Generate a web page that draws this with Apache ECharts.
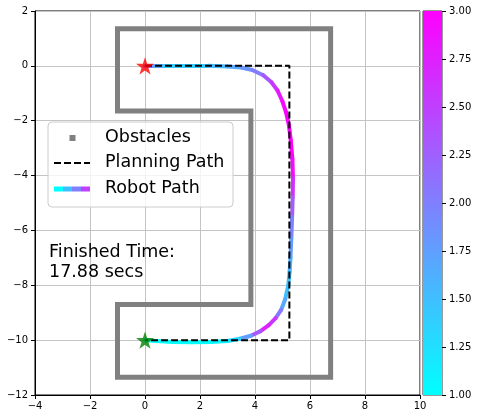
<!DOCTYPE html>
<html>
<head>
<meta charset="utf-8">
<script src="https://cdn.jsdelivr.net/npm/echarts@6/dist/echarts.min.js"></script>
<style>
  html, body { margin: 0; padding: 0; background: #fff; }
  #chart { width: 479px; height: 419px; }
</style>
</head>
<body>
<div id="chart"></div>
<script>
/* 障碍物轮廓 (闭合) */
var obstacleX = [-1, 6.75, 6.75, -1, -1, 3.85, 3.85, -1, -1];
var obstacleY = [1.35, 1.35, -11.35, -11.35, -8.7, -8.7, -1.65, -1.65, 1.35];

/* 规划路径 */
var planX = [0, 5.25, 5.25, 0];
var planY = [0, 0, -10, -10];

/* 机器人轨迹 + 颜色值 */
var robotX = [0, 0.3, 0.7, 1.5, 2.3, 3.0, 3.5, 3.9, 4.3, 4.6, 4.82, 5.0, 5.13, 5.23, 5.3, 5.36,
  5.38, 5.37, 5.35, 5.32, 5.29, 5.26, 5.21, 5.1, 4.95, 4.75, 4.5, 4.2, 3.85, 3.45, 3.0, 2.4, 1.7, 1.0, 0.4, 0];
var robotY = [0, 0, 0, 0, 0, -0.02, -0.06, -0.15, -0.34, -0.6, -0.9, -1.3, -1.7, -2.15, -2.7, -3.4,
  -4.1, -4.8, -5.5, -6.3, -7.0, -7.5, -8.0, -8.5, -8.9, -9.2, -9.45, -9.67, -9.84, -9.95, -10.03, -10.07, -10.08, -10.07, -10.03, -10];
var robotV = [2.4, 1.9, 1.45, 1.35, 1.45, 1.6, 1.75, 1.9, 2.15, 2.45, 2.7, 2.9, 3.0, 3.0, 3.0, 3.0,
  2.85, 2.45, 2.1, 1.85, 1.7, 1.55, 1.45, 1.55, 1.8, 2.3, 2.85, 2.6, 2.0, 1.5, 1.15, 1.0, 1.0, 1.0, 1.0, 1.0];

var startPoint = [0, 0];
var goalPoint = [0, -10];

var cbMin = 1, cbMax = 3;
var finishedTime = '17.88';

var FONT = 'DejaVu Sans';
var starPath = 'path://M100,0L122.45,69.1L195.1,69.1L136.3,111.8L158.8,180.9L100,138.2L41.2,180.9L63.7,111.8L4.9,69.1L77.55,69.1Z';

// cool colormap
function cool(v) {
  var t = (v - cbMin) / (cbMax - cbMin);
  t = Math.max(0, Math.min(1, t));
  return 'rgb(' + Math.round(255 * t) + ',' + Math.round(255 * (1 - t)) + ',255)';
}
function minus(v) {
  return v < 0 ? '\u2212' + (-v) : String(v);
}
function zip(xs, ys) {
  var out = [];
  for (var i = 0; i < xs.length; i++) out.push([xs[i], ys[i]]);
  return out;
}

var robotSegs = [];
for (var i = 1; i < robotX.length; i++) {
  robotSegs.push({
    coords: [[robotX[i - 1], robotY[i - 1]], [robotX[i], robotY[i]]],
    lineStyle: { color: cool((robotV[i - 1] + robotV[i]) / 2) }
  });
}

var axisText = { color: '#000', fontFamily: FONT, fontSize: 10 };

var option = {
  animation: false,
  backgroundColor: '#fff',
  grid: [
    { left: 35, right: 59, top: 11, bottom: 24, show: true, borderColor: '#000', borderWidth: 1 },
    { left: 423, right: 37, top: 11, bottom: 24, show: true, borderColor: '#333', borderWidth: 1 }
  ],
  xAxis: [{
    type: 'value', min: -4, max: 10, interval: 2, gridIndex: 0,
    axisLine: { show: true, onZero: false, lineStyle: { color: '#000', width: 1 } },
    axisTick: { show: true, length: 4, lineStyle: { color: '#000' } },
    axisLabel: Object.assign({ margin: 6, formatter: minus }, axisText),
    splitLine: { show: true, lineStyle: { color: '#c4c4c4', width: 1 } }
  }, {
    type: 'category', data: ['cb'], gridIndex: 1, show: false
  }],
  yAxis: [{
    type: 'value', min: -12, max: 2, interval: 2, gridIndex: 0,
    axisLine: { show: true, onZero: false, lineStyle: { color: '#000', width: 1 } },
    axisTick: { show: true, length: 4, lineStyle: { color: '#000' } },
    axisLabel: Object.assign({ margin: 7, formatter: minus }, axisText),
    splitLine: { show: true, lineStyle: { color: '#c4c4c4', width: 1 } }
  }, {
    type: 'value', min: cbMin, max: cbMax, interval: 0.25, gridIndex: 1, position: 'right',
    axisLine: { show: false },
    axisTick: { show: true, length: 4, lineStyle: { color: '#000' } },
    axisLabel: Object.assign({ margin: 7, formatter: function (v) { return v.toFixed(2); } }, axisText),
    splitLine: { show: false }
  }],
  series: [{
    name: 'Obstacles',
    type: 'line',
    z: 1,
    data: zip(obstacleX, obstacleY),
    symbol: 'none',
    lineStyle: { color: '#808080', width: 5, join: 'miter', cap: 'square' }
  }, {
    name: 'Robot Path',
    type: 'lines',
    coordinateSystem: 'cartesian2d',
    z: 2,
    lineStyle: { width: 4, cap: 'round', opacity: 1 },
    data: robotSegs
  }, {
    name: 'Planning Path',
    type: 'line',
    z: 3,
    data: zip(planX, planY),
    symbol: 'none',
    lineStyle: { color: '#000', width: 2, type: [7, 3] }
  }, {
    type: 'scatter',
    z: 4,
    symbol: starPath,
    symbolKeepAspect: true,
    symbolSize: 18,
    itemStyle: { color: '#ff0000' },
    data: [startPoint]
  }, {
    type: 'scatter',
    z: 4,
    symbol: starPath,
    symbolKeepAspect: true,
    symbolSize: 18,
    itemStyle: { color: '#008000' },
    data: [goalPoint]
  }, {
    type: 'bar', xAxisIndex: 1, yAxisIndex: 1, stack: 'cb', barWidth: '100%',
    itemStyle: { color: 'rgba(0,0,0,0)' },
    data: [cbMin]
  }, {
    type: 'bar', xAxisIndex: 1, yAxisIndex: 1, stack: 'cb', barWidth: '100%',
    itemStyle: {
      color: new echarts.graphic.LinearGradient(0, 0, 0, 1, [
        { offset: 0, color: cool(cbMax) },
        { offset: 1, color: cool(cbMin) }
      ])
    },
    data: [cbMax - cbMin]
  }],
  graphic: [{
    type: 'rect', z: 100,
    shape: { x: 48, y: 122, width: 185, height: 85, r: 4 },
    style: { fill: 'rgba(255,255,255,0.8)', stroke: '#cccccc', lineWidth: 1 }
  }, {
    type: 'rect', z: 101,
    shape: { x: 69.5, y: 135, width: 6, height: 6 },
    style: { fill: '#808080' }
  }, {
    type: 'line', z: 101,
    shape: { x1: 54, y1: 163, x2: 90, y2: 163 },
    style: { stroke: '#000', lineWidth: 2.2, lineDash: [7, 3] }
  }, {
    type: 'rect', z: 101, shape: { x: 54, y: 186.5, width: 9, height: 5 }, style: { fill: cool(1.0) }
  }, {
    type: 'rect', z: 101, shape: { x: 63, y: 186.5, width: 9, height: 5 }, style: { fill: cool(1.5) }
  }, {
    type: 'rect', z: 101, shape: { x: 72, y: 186.5, width: 9, height: 5 }, style: { fill: cool(2.0) }
  }, {
    type: 'rect', z: 101, shape: { x: 81, y: 186.5, width: 9, height: 5 }, style: { fill: cool(2.5) }
  }, {
    type: 'text', z: 101, x: 105, y: 137,
    style: { text: 'Obstacles', fontFamily: FONT, fontSize: 17.5, fill: '#000', verticalAlign: 'middle' }
  }, {
    type: 'text', z: 101, x: 105, y: 162.5,
    style: { text: 'Planning Path', fontFamily: FONT, fontSize: 17.5, fill: '#000', verticalAlign: 'middle' }
  }, {
    type: 'text', z: 101, x: 105, y: 188,
    style: { text: 'Robot Path', fontFamily: FONT, fontSize: 17.5, fill: '#000', verticalAlign: 'middle' }
  }, {
    type: 'text', z: 101, x: 49, y: 242,
    style: {
      text: 'Finished Time:\n' + finishedTime + ' secs',
      fontFamily: FONT, fontSize: 17.5, lineHeight: 20, fill: '#000', verticalAlign: 'top'
    }
  }]
};

var myChart = echarts.init(document.getElementById('chart'));
myChart.setOption(option);
</script>
</body>
</html>
